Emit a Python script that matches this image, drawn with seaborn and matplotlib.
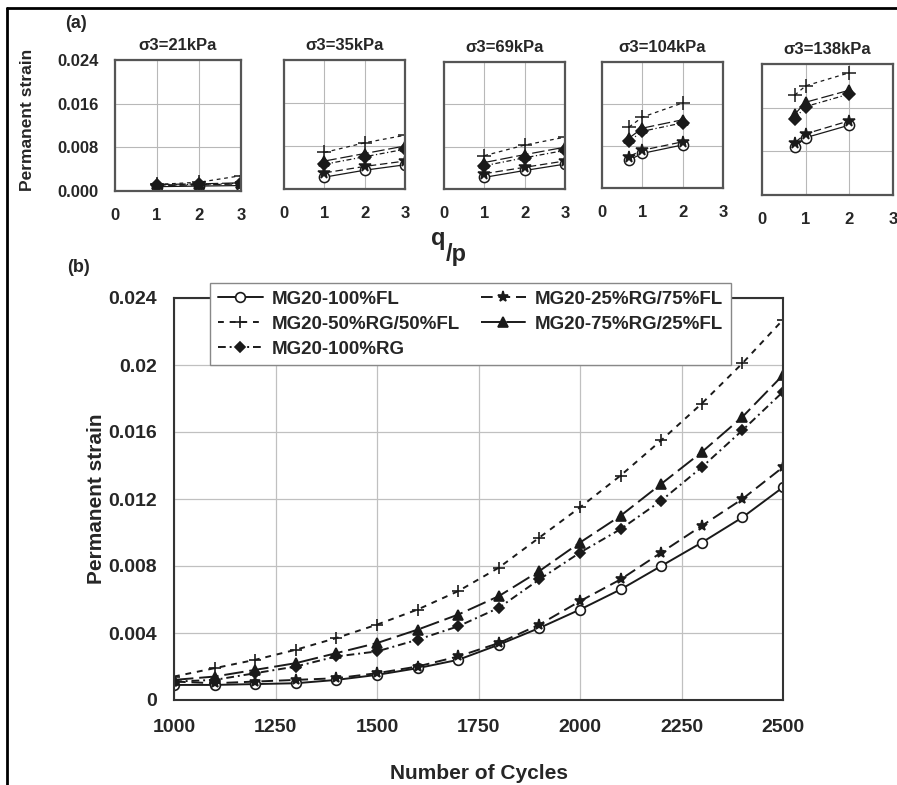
import matplotlib
matplotlib.use('Agg')
import matplotlib.pyplot as plt
import seaborn as sns
from matplotlib.lines import Line2D

# ---- data -------------------------------------------------------------
series_names = ['MG20-100%FL', 'MG20-25%RG/75%FL', 'MG20-50%RG/50%FL',
                'MG20-75%RG/25%FL', 'MG20-100%RG']

# (a) permanent strain vs q/p for each confining pressure
panel_titles = ['σ3=21kPa', 'σ3=35kPa', 'σ3=69kPa', 'σ3=104kPa', 'σ3=138kPa']
qp_21 = [1, 2, 3]
qp_35 = [1, 2, 3]
qp_69 = [1, 2, 3]
qp_104 = [0.67, 1, 2]
qp_138 = [0.75, 1, 2]

strain_21 = {'MG20-100%FL': [0.0008, 0.0009, 0.0010],
             'MG20-25%RG/75%FL': [0.0010, 0.0011, 0.0013],
             'MG20-50%RG/50%FL': [0.0012, 0.0016, 0.0028],
             'MG20-75%RG/25%FL': [0.0012, 0.0013, 0.0015],
             'MG20-100%RG': [0.0011, 0.0012, 0.0014]}
strain_35 = {'MG20-100%FL': [0.0022, 0.0035, 0.0045],
             'MG20-25%RG/75%FL': [0.0030, 0.0042, 0.0052],
             'MG20-50%RG/50%FL': [0.0068, 0.0086, 0.0100],
             'MG20-75%RG/25%FL': [0.0052, 0.0066, 0.0080],
             'MG20-100%RG': [0.0046, 0.0060, 0.0074]}
strain_69 = {'MG20-100%FL': [0.0022, 0.0035, 0.0047],
             'MG20-25%RG/75%FL': [0.0029, 0.0041, 0.0053],
             'MG20-50%RG/50%FL': [0.0063, 0.0083, 0.0098],
             'MG20-75%RG/25%FL': [0.0050, 0.0065, 0.0079],
             'MG20-100%RG': [0.0044, 0.0059, 0.0073]}
strain_104 = {'MG20-100%FL': [0.0053, 0.0066, 0.0082],
              'MG20-25%RG/75%FL': [0.0060, 0.0072, 0.0088],
              'MG20-50%RG/50%FL': [0.0116, 0.0135, 0.0162],
              'MG20-75%RG/25%FL': [0.0095, 0.0114, 0.0130],
              'MG20-100%RG': [0.0089, 0.0108, 0.0124]}
strain_138 = {'MG20-100%FL': [0.0088, 0.0105, 0.0128],
              'MG20-25%RG/75%FL': [0.0096, 0.0112, 0.0136],
              'MG20-50%RG/50%FL': [0.0183, 0.0200, 0.0224],
              'MG20-75%RG/25%FL': [0.0148, 0.0170, 0.0192],
              'MG20-100%RG': [0.0140, 0.0162, 0.0185]}

top_yticks = [0, 0.008, 0.016, 0.024]
top_yticklabels = ['0.000', '0.008', '0.016', '0.024']
top_xticks = [0, 1, 2, 3]

# (b) permanent strain vs number of cycles
cycles = [1000, 1100, 1200, 1300, 1400, 1500, 1600, 1700,
          1800, 1900, 2000, 2100, 2200, 2300, 2400, 2500]
fl_100 = [0.0009, 0.0009, 0.00095, 0.0010, 0.0012, 0.0015, 0.0019, 0.0024,
          0.0033, 0.0043, 0.0054, 0.0066, 0.0080, 0.0094, 0.0109, 0.0127]
rg_25 = [0.0011, 0.0010, 0.0011, 0.0012, 0.0013, 0.0016, 0.0020, 0.0026,
         0.0034, 0.0045, 0.0059, 0.0072, 0.0088, 0.0104, 0.0120, 0.0139]
rg_50 = [0.0014, 0.0019, 0.0024, 0.0030, 0.0037, 0.0045, 0.0054, 0.0065,
         0.0079, 0.0097, 0.0115, 0.0134, 0.0155, 0.0177, 0.0201, 0.0227]
rg_75 = [0.0012, 0.0014, 0.0018, 0.0022, 0.0028, 0.0034, 0.0042, 0.0051,
         0.0062, 0.0077, 0.0094, 0.0110, 0.0129, 0.0148, 0.0169, 0.0194]
rg_100 = [0.0011, 0.0012, 0.0016, 0.0020, 0.0026, 0.0029, 0.0036, 0.0044,
          0.0055, 0.0072, 0.0088, 0.0102, 0.0119, 0.0139, 0.0161, 0.0184]

bottom_xticks = [1000, 1250, 1500, 1750, 2000, 2250, 2500]
bottom_yticks = [0, 0.004, 0.008, 0.012, 0.016, 0.02, 0.024]
bottom_yticklabels = ['0', '0.004', '0.008', '0.012', '0.016', '0.02', '0.024']

# ---- style ------------------------------------------------------------
sns.set_style('white')
plt.rcParams['font.family'] = ['Liberation Sans', 'DejaVu Sans']
plt.rcParams['font.weight'] = 'bold'

ink = '#1a1a1a'
styles = {
    'MG20-100%FL': dict(linestyle='-', marker='o', markerfacecolor='white', markersize=7),
    'MG20-25%RG/75%FL': dict(linestyle=(0, (6, 3)), marker='*', markerfacecolor=ink, markersize=8),
    'MG20-50%RG/50%FL': dict(linestyle=(0, (3, 3)), marker='+', markerfacecolor=ink, markersize=9),
    'MG20-75%RG/25%FL': dict(linestyle=(0, (10, 3)), marker='^', markerfacecolor=ink, markersize=7),
    'MG20-100%RG': dict(linestyle=(0, (4, 2, 1, 2)), marker='D', markerfacecolor=ink, markersize=5.5),
}

W, H = 897, 785
fig = plt.figure(figsize=(W / 100, H / 100), dpi=100)


def fig_box(x0, y0, x1, y1):
    return [x0 / W, 1 - y1 / H, (x1 - x0) / W, (y1 - y0) / H]


# ---- (a) top panels ---------------------------------------------------
panel_boxes = [(115, 60, 241, 191), (284, 60, 405, 189), (444, 62, 565, 189),
               (602, 62, 723, 188), (762, 64, 893, 195)]
panel_x = [qp_21, qp_35, qp_69, qp_104, qp_138]
panel_y = [strain_21, strain_35, strain_69, strain_104, strain_138]

for i, (box, xs, ys, title) in enumerate(zip(panel_boxes, panel_x, panel_y, panel_titles)):
    ax = fig.add_axes(fig_box(*box))
    for name in series_names:
        st = styles[name]
        sns.lineplot(x=xs, y=ys[name], ax=ax, color=ink, linewidth=0.9,
                     markeredgecolor=ink, markeredgewidth=1.1, legend=False,
                     linestyle=st['linestyle'], marker=st['marker'],
                     markerfacecolor=st['markerfacecolor'],
                     markersize=st['markersize'] * 1.05)
    ax.set_xlim(0, 3)
    ax.set_ylim(0, 0.024)
    ax.set_xticks(top_xticks)
    ax.set_xticklabels([str(t) for t in top_xticks], fontsize=12, fontweight='bold')
    ax.set_yticks(top_yticks)
    if i == 0:
        ax.set_yticklabels(top_yticklabels, fontsize=12, fontweight='bold')
    else:
        ax.set_yticklabels([])
    ax.tick_params(axis='x', length=3, direction='in', pad=12)
    ax.tick_params(axis='y', length=3, direction='in', pad=12)
    ax.grid(True, color='#b8b8b8', linewidth=0.8)
    for sp in ax.spines.values():
        sp.set_color('#555555')
        sp.set_linewidth(1.6)
    ax.set_xlabel('')
    ax.set_ylabel('')
    ax.set_title(title, fontsize=12, fontweight='bold', pad=7)

fig.text(76 / W, 1 - 24 / H, '(a)', fontsize=13, fontweight='bold', ha='center', va='center')
fig.text(27 / W, 1 - 120 / H, 'Permanent strain', rotation=90, fontsize=12.5,
         fontweight='bold', ha='center', va='center')
fig.text(438 / W, 1 - 238 / H, 'q', fontsize=17, fontweight='bold', ha='center', va='center')
fig.text(456 / W, 1 - 255 / H, '/p', fontsize=17, fontweight='bold', ha='center', va='center')

# ---- (b) bottom panel -------------------------------------------------
axb = fig.add_axes(fig_box(174, 298, 783, 700))
bottom_series = {'MG20-100%FL': fl_100, 'MG20-25%RG/75%FL': rg_25,
                 'MG20-50%RG/50%FL': rg_50, 'MG20-75%RG/25%FL': rg_75,
                 'MG20-100%RG': rg_100}
for name in series_names:
    sns.lineplot(x=cycles, y=bottom_series[name], ax=axb, color=ink, linewidth=1.4,
                 markeredgecolor=ink, markeredgewidth=1.2, legend=False,
                 label=name, **styles[name])

axb.set_xlim(1000, 2500)
axb.set_ylim(0, 0.024)
axb.set_xticks(bottom_xticks)
axb.set_xticklabels([str(t) for t in bottom_xticks], fontsize=14, fontweight='bold')
axb.set_yticks(bottom_yticks)
axb.set_yticklabels(bottom_yticklabels, fontsize=14, fontweight='bold')
axb.tick_params(axis='x', length=0, pad=14)
axb.tick_params(axis='y', length=0, pad=12)
axb.grid(True, color='#c0c0c0', linewidth=0.9)
for sp in axb.spines.values():
    sp.set_color('#333333')
    sp.set_linewidth(1.5)
axb.set_xlabel('Number of Cycles', fontsize=15, fontweight='bold', labelpad=20)
axb.set_ylabel('Permanent strain', fontsize=15, fontweight='bold', labelpad=2)

handles, labels = axb.get_legend_handles_labels()
order = ['MG20-100%FL', 'MG20-50%RG/50%FL', 'MG20-100%RG',
         'MG20-25%RG/75%FL', 'MG20-75%RG/25%FL']
lookup = dict(zip(labels, handles))
leg = axb.legend([lookup[n] for n in order], order, ncol=2, loc='upper left',
                 bbox_to_anchor=(210 / W, 1 - 283 / H), bbox_transform=fig.transFigure,
                 prop={'weight': 'bold', 'size': 13.5}, borderaxespad=0,
                 fancybox=False, framealpha=1, edgecolor='#888888',
                 handlelength=2.4, handletextpad=0.5, columnspacing=1.1,
                 labelspacing=0.42, borderpad=0.4)
leg.get_frame().set_linewidth(1.0)
leg.set_zorder(10)

fig.text(78 / W, 1 - 268 / H, '(b)', fontsize=13, fontweight='bold', ha='center', va='center')

# outer frame (top and left edges)
fig.add_artist(Line2D([7 / W, 7 / W], [0, 1 - 8 / H], transform=fig.transFigure,
                      color='black', linewidth=2))
fig.add_artist(Line2D([7 / W, 1], [1 - 8 / H, 1 - 8 / H], transform=fig.transFigure,
                      color='black', linewidth=2))

fig.savefig('out.png', dpi=100)
